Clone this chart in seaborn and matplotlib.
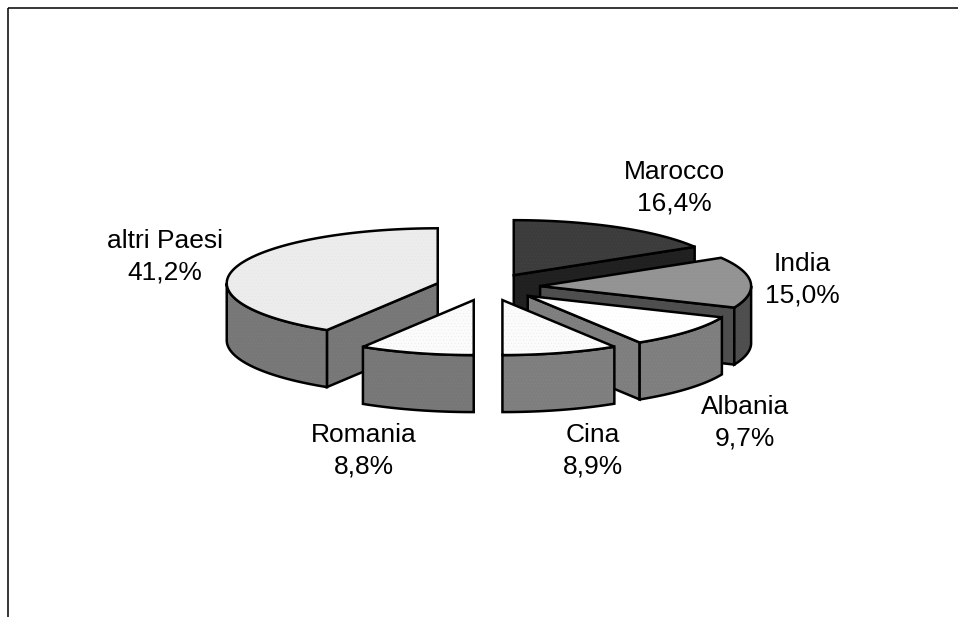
import matplotlib.pyplot as plt
import numpy as np
import seaborn as sns
from matplotlib.patches import Polygon

# slices, clockwise from 12 o'clock
paesi = ["Marocco", "India", "Albania", "Cina", "Romania", "altri Paesi"]
quote = [16.4, 15.0, 9.7, 8.9, 8.8, 41.2]

# top face, top dots, side face, side dots
colori = {
    "Marocco": ("#3c3c3c", "#555555", "#202020", "#303030"),
    "India": ("#939393", "#a4a4a4", "#4e4e4e", "#5c5c5c"),
    "Albania": ("#ffffff", "#e6e6e6", "#7e7e7e", "#969696"),
    "Cina": ("#fbfbfb", "#d2d2d2", "#7e7e7e", "#969696"),
    "Romania": ("#fbfbfb", "#d2d2d2", "#777777", "#8c8c8c"),
    "altri Paesi": ("#ececec", "#d8d8d8", "#777777", "#8c8c8c"),
}
ordine = ["Marocco", "India", "Albania", "Cina", "altri Paesi", "Romania"]

# label centres in pixels
pos_label = {
    "Marocco": (674.5, 187.5),
    "India": (802, 279.5),
    "Albania": (745, 422.5),
    "Cina": (593, 450.5),
    "Romania": (364, 450.5),
    "altri Paesi": (165, 256.5),
}

CX, CY = 488, 287
RX, RY = 211, 55
DEPTH = 57
EXPLODE = 0.2476
LW = 1.8

sns.set_theme(style="white")
plt.rcParams["font.family"] = ["Liberation Sans", "DejaVu Sans"]
plt.rcParams["hatch.linewidth"] = 0.0

fig = plt.figure(figsize=(9.58, 6.17), dpi=100)
ax = fig.add_axes([0, 0, 1, 1])
ax.set_xlim(0, 958)
ax.set_ylim(617, 0)
ax.axis("off")


def punto(t, ox, oy):
    return ox + RX * np.sin(t), oy - RY * np.cos(t)


def faccia(pts, fc, dots, hatch=".....", z=1):
    ax.add_patch(Polygon(pts, closed=True, fc=fc, ec="none", zorder=z))
    ax.add_patch(Polygon(pts, closed=True, fc="none", ec=dots, lw=0, hatch=hatch, zorder=z))
    ax.add_patch(Polygon(pts, closed=True, fc="none", ec="black", lw=LW, joinstyle="miter", zorder=z))


def fetta(nome, a, b):
    top, top_d, side, side_d = colori[nome]
    mid = (a + b) / 2
    ox = CX + EXPLODE * RX * np.sin(mid)
    oy = CY - EXPLODE * RY * np.cos(mid)
    apex = (ox, oy)

    # cut faces turned toward the viewer
    for t in (b if np.sin(b) > 1e-6 else None, a if np.sin(a) < -1e-6 else None):
        if t is None:
            continue
        p = punto(t, ox, oy)
        faccia([apex, p, (p[0], p[1] + DEPTH), (ox, oy + DEPTH)], side, side_d)

    # outer rim, only the front half of the circle
    r0, r1 = max(a, np.pi / 2), min(b, 3 * np.pi / 2)
    if r1 > r0:
        tt = np.linspace(r0, r1, 80)
        xs, ys = punto(tt, ox, oy)
        pts = np.r_[np.c_[xs, ys], np.c_[xs[::-1], ys[::-1] + DEPTH]]
        faccia(pts, side, side_d)

    tt = np.linspace(a, b, 120)
    xs, ys = punto(tt, ox, oy)
    faccia(np.r_[[apex], np.c_[xs, ys]], top, top_d)


bordi = np.r_[0, np.cumsum(quote)] / sum(quote) * 2 * np.pi
angoli = {n: (bordi[i], bordi[i + 1]) for i, n in enumerate(paesi)}
for nome in ordine:
    fetta(nome, *angoli[nome])

for nome, q in zip(paesi, quote):
    x, y = pos_label[nome]
    txt = f"{nome}\n{q:.1f}%".replace(".", ",")
    ax.text(x, y, txt, ha="center", va="center", fontsize=19, linespacing=1.41, color="black", zorder=5)

# frame: only top and left sides show in the picture
ax.plot([8, 958], [8, 8], color="black", lw=1.1, solid_capstyle="butt", zorder=6)
ax.plot([8, 8], [8, 617], color="black", lw=1.1, solid_capstyle="butt", zorder=6)

fig.savefig("out.png", dpi=100)
